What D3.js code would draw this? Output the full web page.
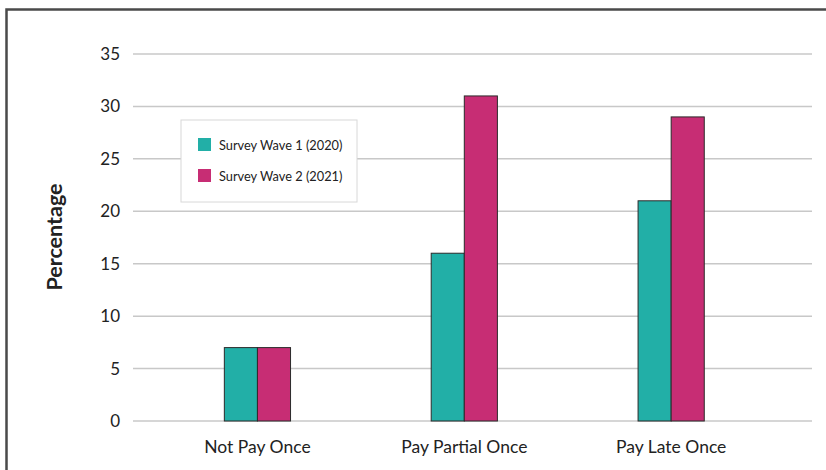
<!DOCTYPE html>
<html>
<head>
<meta charset="utf-8">
<script src="https://cdn.jsdelivr.net/npm/d3@7"></script>
<style>
  html, body { margin: 0; padding: 0; background: #fff; }
  svg { display: block; }
  text { font-family: Lato, "Noto Sans", sans-serif; fill: #222; }
</style>
</head>
<body>
<svg id="chart" width="826" height="470"></svg>
<script>
// Share of respondents by missed-payment type, two survey waves
const categories = ["Not Pay Once", "Pay Partial Once", "Pay Late Once"];
const seriesNames = ["Survey Wave 1 (2020)", "Survey Wave 2 (2021)"];
const wave1 = [7, 16, 21];
const wave2 = [7, 31, 29];
const yTicks = [0, 5, 10, 15, 20, 25, 30, 35];
const colors = ["#22afa7", "#c72d74"];

const svg = d3.select("#chart");

// outer frame (top and left edges)
svg.append("path")
  .attr("d", "M6.5,470 V9.5 H826")
  .attr("fill", "none")
  .attr("stroke", "#4a4a4a")
  .attr("stroke-width", 2.5);

const y = d3.scaleLinear().domain([0, 35]).range([421, 54]);
const x0 = d3.scaleBand().domain(categories).range([154, 774.6])
  .paddingInner(0.68).paddingOuter(0.34);
const x1 = d3.scaleBand().domain(seriesNames).range([0, x0.bandwidth()]);

// horizontal gridlines
svg.append("g")
  .selectAll("line")
  .data(yTicks)
  .join("line")
  .attr("x1", 133).attr("x2", 812)
  .attr("y1", d => y(d)).attr("y2", d => y(d))
  .attr("stroke", "#c8c8c8")
  .attr("stroke-width", 1.5);

// y axis tick labels
const yAxis = d3.axisLeft(y).tickValues(yTicks).tickSize(0).tickPadding(0);
const gy = svg.append("g").attr("transform", "translate(120,0)").call(yAxis);
gy.select(".domain").remove();
gy.selectAll("text")
  .attr("font-size", 17)
  .attr("font-family", "Lato, 'Noto Sans', sans-serif")
  .attr("fill", "#222");

// x axis category labels
const xAxis = d3.axisBottom(x0).tickSize(0).tickPadding(0);
const gx = svg.append("g").attr("transform", "translate(0,441)").call(xAxis);
gx.select(".domain").remove();
gx.selectAll("text")
  .attr("font-size", 17.5)
  .attr("font-family", "Lato, 'Noto Sans', sans-serif")
  .attr("fill", "#222");

// bars
const rows = categories.map((c, i) => ({ cat: c, vals: [wave1[i], wave2[i]] }));
svg.append("g")
  .selectAll("g")
  .data(rows)
  .join("g")
  .attr("transform", d => `translate(${x0(d.cat)},0)`)
  .selectAll("rect")
  .data(d => d.vals.map((v, j) => ({ name: seriesNames[j], v, j })))
  .join("rect")
  .attr("x", d => x1(d.name))
  .attr("y", d => y(d.v))
  .attr("width", x1.bandwidth())
  .attr("height", d => y(0) - y(d.v))
  .attr("fill", d => colors[d.j])
  .attr("stroke", "#2b2b2b")
  .attr("stroke-width", 1);

// y axis title
svg.append("text")
  .attr("transform", "translate(62,237) rotate(-90)")
  .attr("text-anchor", "middle")
  .attr("font-size", 21.5)
  .attr("font-weight", "bold")
  .text("Percentage");

// legend
const legend = svg.append("g");
legend.append("rect")
  .attr("x", 181).attr("y", 120)
  .attr("width", 176).attr("height", 82)
  .attr("fill", "#fff")
  .attr("stroke", "#d8d8d8")
  .attr("stroke-width", 1);
seriesNames.forEach((name, i) => {
  legend.append("rect")
    .attr("x", 198).attr("y", 138 + i * 31)
    .attr("width", 13).attr("height", 13)
    .attr("fill", colors[i]);
  legend.append("text")
    .attr("x", 219).attr("y", 149.5 + i * 31)
    .attr("font-size", 12.8)
    .text(name);
});
</script>
</body>
</html>
